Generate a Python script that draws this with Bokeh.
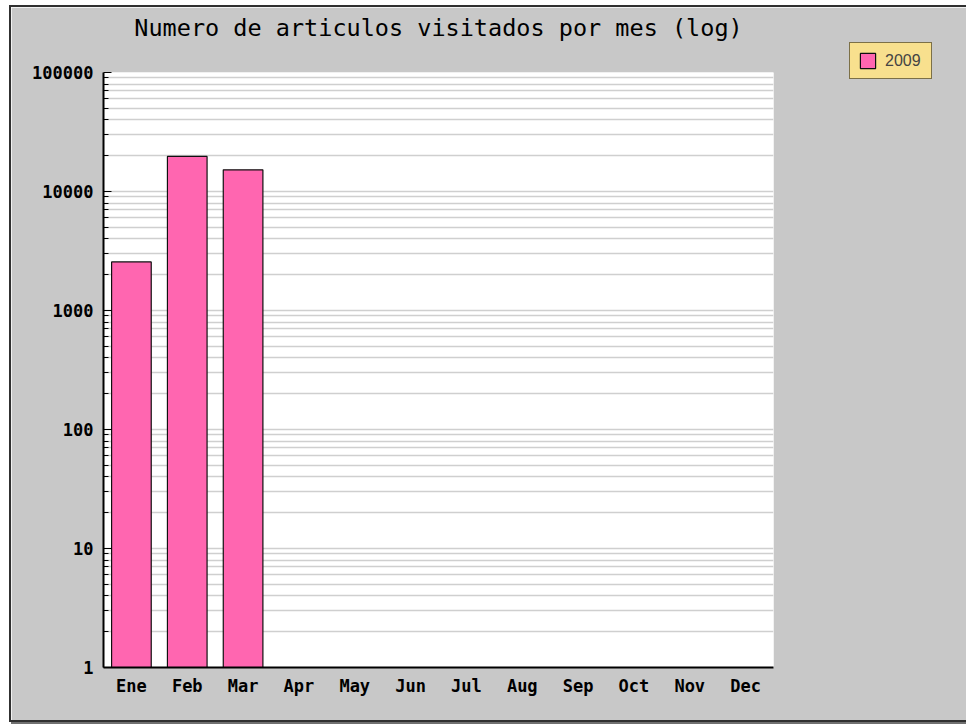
from bokeh.plotting import figure
from bokeh.models import (Range1d, FixedTicker, NumeralTickFormatter, Legend,
                          LegendItem, FactorRange, ColumnDataSource, Title)
from bokeh.embed import file_html
from bokeh.resources import INLINE

# ---- data ----
months = ["Ene", "Feb", "Mar", "Apr", "May", "Jun", "Jul", "Aug", "Sep", "Oct", "Nov", "Dec"]
series_name = "2009"
series_months = ["Ene", "Feb", "Mar"]
series_values = [2560, 19700, 15200]
y_major_ticks = [1, 10, 100, 1000, 10000, 100000]
y_minor_ticks = [m * d for d in [1, 10, 100, 1000, 10000] for m in range(2, 10)]
title_text = "Numero de articulos visitados por mes (log)"

BG = "#C8C8C8"
W, H = 953, 713
FL, FT, FW, FH = 92, 65, 670, 595

p = figure(frame_width=FW, frame_height=FH,
           x_range=FactorRange(*months, range_padding=0),
           y_range=Range1d(1, 100000), y_axis_type="log",
           output_backend="svg", toolbar_location=None, title=None,
           min_border_left=FL, min_border_right=W - FL - FW,
           min_border_top=FT, min_border_bottom=H - FT - FH)

p.styles = {"border": "2px solid #303030", "box-shadow": "2px 2px 0 #707070",
            "margin-left": "9px", "margin-top": "5px"}
p.background_fill_color = "white"
p.border_fill_color = BG
p.outline_line_color = None

# spacer (closest to the frame) then the real title above it
spacer = Title(text=" ", text_font_size="23px", standoff=3)
p.add_layout(spacer, "above")
title = Title(text=title_text, align="center", standoff=0,
              text_font="DejaVu Sans Mono", text_font_size="23.5px",
              text_font_style="normal", text_color="black")
p.add_layout(title, "above")

src = ColumnDataSource(dict(x=series_months, top=series_values))
r = p.vbar(x="x", top="top", bottom=1, width=0.71, source=src,
           fill_color="#FF66B0", line_color="#101010", line_width=1.2)

# axes
ya = p.yaxis[0]
ya.ticker = FixedTicker(ticks=y_major_ticks, minor_ticks=y_minor_ticks)
ya.formatter = NumeralTickFormatter(format="0")
ya.major_tick_in = 8
ya.major_tick_out = 0
ya.minor_tick_in = 5
ya.minor_tick_out = 0
ya.axis_line_width = 2
ya.axis_line_color = "black"
ya.major_tick_line_color = "black"
ya.minor_tick_line_color = "black"
ya.major_label_text_font = "DejaVu Sans Mono"
ya.major_label_text_font_style = "bold"
ya.major_label_text_font_size = "17px"
ya.major_label_text_color = "black"
ya.major_label_standoff = 10

xa = p.xaxis[0]
xa.axis_line_width = 2
xa.axis_line_color = "black"
xa.major_tick_line_color = None
xa.minor_tick_line_color = None
xa.major_label_text_font = "DejaVu Sans Mono"
xa.major_label_text_font_style = "bold"
xa.major_label_text_font_size = "17px"
xa.major_label_text_color = "black"
xa.major_label_standoff = 2

p.xgrid.grid_line_color = None
p.ygrid.grid_line_color = "#CFCFCF"
p.ygrid.grid_line_width = 1.5
p.ygrid.minor_grid_line_color = "#CFCFCF"
p.ygrid.minor_grid_line_width = 1.5

legend = Legend(items=[LegendItem(label=series_name, renderers=[r])],
                location=(76, 588))
legend.background_fill_color = "#F8E08E"
legend.background_fill_alpha = 1
legend.border_line_color = "black"
legend.border_line_width = 1
legend.label_text_font = "Liberation Sans"
legend.label_text_font_size = "16px"
legend.glyph_width = 19
legend.glyph_height = 19
legend.label_width = 38
legend.padding = 8
legend.margin = 0
legend.label_standoff = 8
p.add_layout(legend, "right")

open("out.html", "w").write(file_html(p, INLINE))
